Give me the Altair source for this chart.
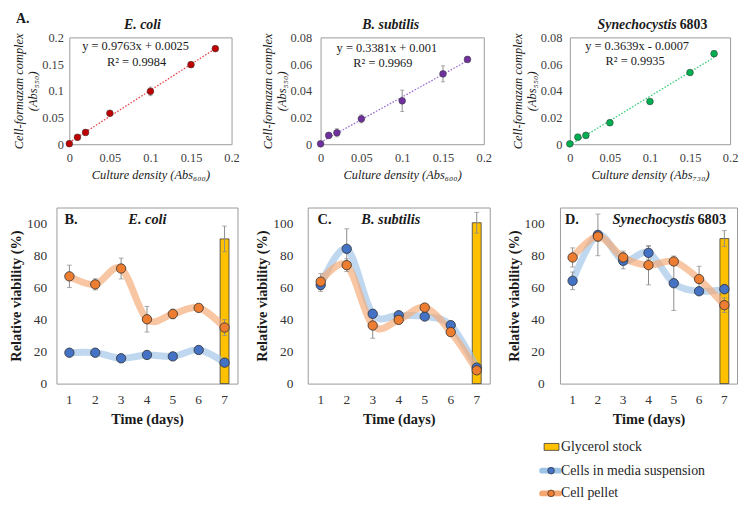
import altair as alt
import pandas as pd

FONT = "'Liberation Serif', 'DejaVu Serif', 'Times New Roman', serif"
TXT = "#1a1a1a"
LBL = "#404040"
FRAME = "#9a9a9a"
ERR = "#8c8c8c"

# ---------------- Panel A: calibration curves ----------------
conc = [0, 0.01, 0.02, 0.05, 0.1, 0.15, 0.18]
ecoli_abs = [0.001, 0.013, 0.022, 0.058, 0.099, 0.149, 0.179]
ecoli_err = [0.0, 0.001, 0.001, 0.001, 0.008, 0.002, 0.001]
bsub_abs = [0.0003, 0.0066, 0.0086, 0.019, 0.0325, 0.0527, 0.0635]
bsub_err = [0.0, 0.001, 0.003, 0.003, 0.008, 0.006, 0.001]
syn_abs = [0.0003, 0.0053, 0.0066, 0.0161, 0.032, 0.0537, 0.0678]
syn_err = [0.0, 0.0005, 0.0005, 0.0005, 0.0008, 0.0008, 0.0005]

x_ticks_a = [0, 0.05, 0.1, 0.15, 0.2]
y_ticks_ecoli = [0, 0.05, 0.1, 0.15, 0.2]
y_ticks_small = [0, 0.02, 0.04, 0.06, 0.08]

# ---------------- Panels B-D: viability ----------------
days = [1, 2, 3, 4, 5, 6, 7]
series_names = ["Cells in media suspension", "Cell pellet"]

ecoli_media = [19.3, 19.3, 15.8, 17.9, 17.0, 21.0, 13.1]
ecoli_media_err = [1, 1, 1, 1, 1, 1, 1]
ecoli_pellet = [67.0, 62.0, 71.9, 40.2, 43.5, 47.3, 35.0]
ecoli_pellet_err = [7, 3.5, 6.5, 8, 3, 1, 5]
ecoli_glycerol = 90.4
ecoli_glycerol_err = 8

bsub_media = [61.6, 84.2, 43.6, 42.7, 41.9, 36.5, 10.0]
bsub_media_err = [4, 12.5, 1, 1, 1, 1, 1]
bsub_pellet = [63.7, 74.0, 36.3, 39.8, 47.5, 32.2, 8.3]
bsub_pellet_err = [5, 4, 8, 1, 1, 1, 1]
bsub_glycerol = 100.5
bsub_glycerol_err = 6.5

syn_media = [64.2, 92.9, 76.7, 81.7, 62.7, 57.7, 59.0]
syn_media_err = [5.5, 13, 5, 4, 17, 1, 3]
syn_pellet = [78.8, 91.9, 78.8, 74.0, 76.3, 65.3, 49.0]
syn_pellet_err = [6, 3, 4, 12.3, 2, 8, 4.6]
syn_glycerol = 90.6
syn_glycerol_err = 5

y_ticks_b = [0, 20, 40, 60, 80, 100]

COL_W = [183, 184, 179]
TOP_H = 108
BOT_H = 178


def txt(text, x, y, size=12, weight="normal", style="normal", align="center",
        baseline="middle", color=TXT):
    return alt.Chart(pd.DataFrame({"t": [text]})).mark_text(
        font=FONT, fontSize=size, fontWeight=weight, fontStyle=style,
        align=align, baseline=baseline, color=color
    ).encode(x=alt.value(x), y=alt.value(y), text="t:N")


def cal_panel(yvals, errs, dot, trend, ymax, yticks, xtitle, eq, r2,
              eq_pos, r2_pos, titles, col_w, off, fw, lpad, extra=None):
    df = pd.DataFrame({
        "x": conc, "y": yvals,
        "lo": [v - e for v, e in zip(yvals, errs)],
        "hi": [v + e for v, e in zip(yvals, errs)],
    })
    base = alt.Chart(df)
    xs = alt.Scale(domain=[0, 0.2], nice=False, zero=False, range=[off, off + fw])
    ys = alt.Scale(domain=[0, ymax], nice=False)
    xax = alt.Axis(values=x_ticks_a, format="~g", labelFlush=False,
                   labelFontSize=12.5, labelPadding=7, title=xtitle,
                   titleFontSize=12.5, titleFontStyle="italic",
                   titleFontWeight="normal", titlePadding=5)
    yax = alt.Axis(values=yticks, format="~g", labelFontSize=12.5,
                   labelPadding=lpad, offset=-off,
                   title=["Cell-formazan complex", "(Abs\u2085\u2085\u2080)"],
                   titleFontSize=12.5, titleFontStyle="italic",
                   titleFontWeight="normal", titlePadding=2, titleLineHeight=14)

    def X():
        return alt.X("x:Q", scale=xs, axis=xax)

    def Y(f):
        return alt.Y(f"{f}:Q", scale=ys, axis=yax)

    frame = alt.Chart(pd.DataFrame({"f": [0]})).mark_rect(
        fillOpacity=0, stroke=FRAME, strokeWidth=1).encode(
        x=alt.value(off + 0.5), x2=alt.value(off + fw + 0.5),
        y=alt.value(0.5), y2=alt.value(TOP_H + 0.5))
    trendline = base.transform_regression("x", "y", extent=[0, 0.18]).mark_line(
        color=trend, strokeDash=[1.6, 1.6], strokeWidth=1.3
    ).encode(x=X(), y=Y("y"))
    err = base.mark_rule(color=ERR, strokeWidth=1).encode(
        x=X(), y=Y("lo"), y2="hi:Q")
    cap_lo = base.mark_tick(orient="horizontal", size=4, thickness=1, color=ERR).encode(
        x=X(), y=Y("lo"))
    cap_hi = base.mark_tick(orient="horizontal", size=4, thickness=1, color=ERR).encode(
        x=X(), y=Y("hi"))
    pts = base.mark_circle(size=46, color=dot, stroke="#3a3a3a", strokeWidth=0.6,
                           opacity=1).encode(x=X(), y=Y("y"))
    layers = [frame, trendline, err, cap_lo, cap_hi, pts,
              txt(eq, off + eq_pos[0], eq_pos[1], size=12.5),
              txt(r2, off + r2_pos[0], r2_pos[1], size=12.5)]
    for t in titles:
        layers.append(txt(t[0], off + t[1], -12, size=14, weight="bold",
                          style=t[2], align=t[3]))
    if extra is not None:
        for e in extra:
            layers.append(txt(e[0], off + e[1], e[2], size=14, weight="bold",
                              align="left", baseline="top"))
    return alt.layer(*layers).properties(
        width=col_w, height=TOP_H,
        view=alt.ViewBackground(stroke="transparent"))


a1 = cal_panel(ecoli_abs, ecoli_err, "#C00000", "#e8484d", 0.2, y_ticks_ecoli,
               "Culture density (Abs\u2086\u2080\u2080)",
               "y = 0.9763x + 0.0025", "R\u00b2 = 0.9984", (67, 9), (68, 25),
               [("E. coli", 74, "italic", "center")], COL_W[0], 13, 164, 6,
               extra=[("A.", -54, -26)])
a2 = cal_panel(bsub_abs, bsub_err, "#7030A0", "#9b6fd0", 0.08, y_ticks_small,
               "Culture density (Abs\u2086\u2080\u2080)",
               "y = 0.3381x + 0.001", "R\u00b2 = 0.9969", (67, 11), (63, 26),
               [("B. subtilis", 71, "italic", "center")], COL_W[1], 13, 165, 9)
a3 = cal_panel(syn_abs, syn_err, "#00B050", "#3fcf7f", 0.08, y_ticks_small,
               "Culture density (Abs\u2087\u2083\u2080)",
               "y = 0.3639x - 0.0007", "R\u00b2 = 0.9935", (68, 9), (66, 24),
               [("Synechocystis", 108, "italic", "right"),
                ("6803", 111, "normal", "left")], COL_W[2], 10, 162, 8)


def via_panel(media, media_err, pellet, pellet_err, gly, gly_err, letter,
              letter_x, titles, width, lpad, extra=None):
    long = pd.DataFrame({
        "day": days * 2,
        "series": [series_names[0]] * 7 + [series_names[1]] * 7,
        "v": media + pellet,
        "e": media_err + pellet_err,
    })
    long["lo"] = long["v"] - long["e"]
    long["hi"] = long["v"] + long["e"]
    gdf = pd.DataFrame({"day": [7], "v": [gly], "lo": [gly - gly_err],
                        "hi": [gly + gly_err]})

    xs = alt.Scale(domain=days, paddingInner=0, paddingOuter=0)
    ys = alt.Scale(domain=[0, 110], nice=False)
    xax = alt.Axis(labelAngle=0, labelFontSize=13.5, labelPadding=9,
                   labelColor="#333333", title="Time (days)", titleFontSize=14.5,
                   titleFontWeight="bold", titlePadding=7, titleColor=TXT)
    yax = alt.Axis(values=y_ticks_b, labelFontSize=13.5, labelPadding=lpad,
                   labelColor="#333333", title="Relative viability (%)",
                   titleFontSize=14.5, titleFontWeight="bold", titlePadding=3,
                   titleColor=TXT)

    def X():
        return alt.X("day:O", scale=xs, axis=xax)

    def Y(f):
        return alt.Y(f"{f}:Q", scale=ys, axis=yax)

    gbase = alt.Chart(gdf)
    bar = gbase.mark_bar(size=9, color="#FFC000", stroke="#3a3a3a",
                         strokeWidth=0.8).encode(x=X(), y=Y("v"))
    gerr = gbase.mark_rule(color=ERR).encode(x=X(), y=Y("lo"), y2="hi:Q")
    gcap1 = gbase.mark_tick(size=5, thickness=1, color=ERR).encode(x=X(), y=Y("lo"))
    gcap2 = gbase.mark_tick(size=5, thickness=1, color=ERR).encode(x=X(), y=Y("hi"))

    lb = alt.Chart(long)
    lines = lb.mark_line(interpolate="cardinal", strokeWidth=7, opacity=0.65,
                         strokeCap="round").encode(
        x=X(), y=Y("v"),
        stroke=alt.Stroke("series:N", scale=alt.Scale(domain=series_names,
                          range=["#9dc3e6", "#f4a772"]), legend=None))
    serr = lb.mark_rule(color=ERR).encode(x=X(), y=Y("lo"), y2="hi:Q")
    scap1 = lb.mark_tick(size=5, thickness=1, color=ERR).encode(x=X(), y=Y("lo"))
    scap2 = lb.mark_tick(size=5, thickness=1, color=ERR).encode(x=X(), y=Y("hi"))
    pts = lb.mark_circle(size=90, stroke="#2f2f2f", strokeWidth=0.8, opacity=1).encode(
        x=X(), y=Y("v"),
        fill=alt.Fill("series:N", scale=alt.Scale(domain=series_names,
                      range=["#4472C4", "#ED7D31"]), legend=None))
    layers = [bar, gerr, gcap1, gcap2, lines, serr, scap1, scap2, pts,
              txt(letter, letter_x, 13, size=14.5, weight="bold", align="left")]
    for t in titles:
        layers.append(txt(t[0], t[1], 13, size=14.5, weight="bold", style=t[2],
                          align=t[3]))
    if extra is not None:
        layers.extend(extra)
    return alt.layer(*layers).properties(width=width, height=BOT_H)


legend_items = ["Glycerol stock", "Cells in media suspension", "Cell pellet"]
LY = [242, 266, 289]
legend = [
    alt.Chart(pd.DataFrame({"k": [legend_items[0]]})).mark_rect(
        color="#FFC000", stroke="#3a3a3a", strokeWidth=0.8).encode(
        x=alt.value(-16), x2=alt.value(-1), y=alt.value(LY[0] - 3.5),
        y2=alt.value(LY[0] + 3.5)),
    alt.Chart(pd.DataFrame({"k": [legend_items[1]]})).mark_rule(
        color="#9dc3e6", strokeWidth=6, strokeCap="round").encode(
        x=alt.value(-18), x2=alt.value(-1), y=alt.value(LY[1])),
    alt.Chart(pd.DataFrame({"k": [legend_items[1]]})).mark_circle(
        color="#4472C4", stroke="#2f2f2f", strokeWidth=0.7, size=45, opacity=1).encode(
        x=alt.value(-9), y=alt.value(LY[1])),
    alt.Chart(pd.DataFrame({"k": [legend_items[2]]})).mark_rule(
        color="#f4a772", strokeWidth=6, strokeCap="round").encode(
        x=alt.value(-18), x2=alt.value(-1), y=alt.value(LY[2])),
    alt.Chart(pd.DataFrame({"k": [legend_items[2]]})).mark_circle(
        color="#ED7D31", stroke="#2f2f2f", strokeWidth=0.7, size=45, opacity=1).encode(
        x=alt.value(-9), y=alt.value(LY[2])),
    txt(legend_items[0], 1, LY[0], size=14, align="left", color="#262626"),
    txt(legend_items[1], 1, LY[1], size=14, align="left", color="#262626"),
    txt(legend_items[2], 1, LY[2], size=14, align="left", color="#262626"),
]

b = via_panel(ecoli_media, ecoli_media_err, ecoli_pellet, ecoli_pellet_err,
              ecoli_glycerol, ecoli_glycerol_err, "B.", 8,
              [("E. coli", 92, "italic", "center")], COL_W[0], 10)
c = via_panel(bsub_media, bsub_media_err, bsub_pellet, bsub_pellet_err,
              bsub_glycerol, bsub_glycerol_err, "C.", 10,
              [("B. subtilis", 84, "italic", "center")], COL_W[1], 15)
d = via_panel(syn_media, syn_media_err, syn_pellet, syn_pellet_err,
              syn_glycerol, syn_glycerol_err, "D.", 5,
              [("Synechocystis", 136, "italic", "right"),
               ("6803", 139, "normal", "left")], COL_W[2], 16, extra=legend)

chart = alt.concat(
    a1, a2, a3, b, c, d, columns=3,
    spacing={"row": 64, "column": 71}, bounds="flush", align="each"
).properties(
    padding={"left": 0, "top": 0, "right": 0, "bottom": 0},
    background="white"
).configure_view(stroke=FRAME, strokeWidth=1).configure_axis(
    domain=False, ticks=False, grid=False, labelFont=FONT, titleFont=FONT,
    labelColor=LBL, titleColor=TXT
)

chart.save("out.html", embed_options={"renderer": "svg", "actions": False})
